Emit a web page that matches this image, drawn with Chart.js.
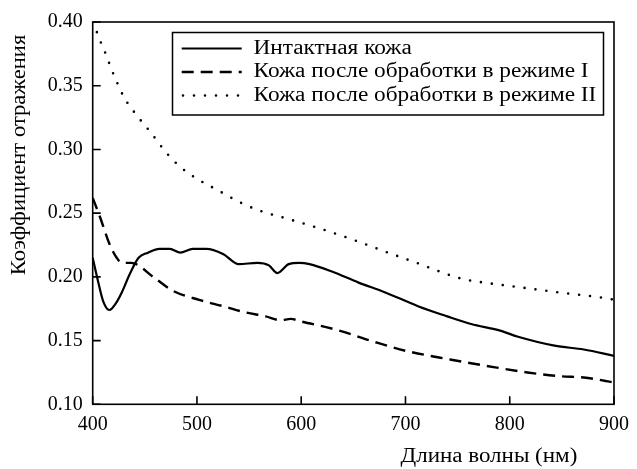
<!DOCTYPE html>
<html><head><meta charset="utf-8">
<script src="https://cdn.jsdelivr.net/npm/chart.js@4/dist/chart.umd.min.js"></script>
<style>html,body{margin:0;padding:0;background:#fff}</style>
</head><body>
<canvas id="c" width="637" height="469"></canvas>
<script>
// ---- data ----
const intactX = [400,405,410,416,422,428,436,444,453,464,474,484,496,509,525,540,558,569,577,588,598,608,630,655,680,712,740,763,790,808,843,871,900];
const intactY = [0.215,0.197,0.181,0.174,0.179,0.188,0.203,0.215,0.219,0.222,0.222,0.219,0.222,0.222,0.218,0.210,0.211,0.209,0.203,0.210,0.211,0.210,0.204,0.1955,0.188,0.177,0.169,0.163,0.158,0.153,0.146,0.143,0.138];
const mode1X = [400,407,416,423,428,437,458,477,502,525,547,566,580,590,600,636,670,700,744,786,817,849,871,894,900];
const mode1Y = [0.262,0.247,0.226,0.215,0.211,0.211,0.200,0.189,0.182,0.177,0.172,0.169,0.166,0.167,0.165,0.158,0.149,0.142,0.135,0.129,0.125,0.122,0.121,0.118,0.117];
const mode2X = [400,405,409,413,417,421,430,442,456,469,483,502,520,540,560,585,610,652,680,709,754,780,808,850,894,900];
const mode2Y = [0.400,0.390,0.3815,0.374,0.365,0.357,0.341,0.327,0.313,0.299,0.287,0.276,0.268,0.259,0.252,0.246,0.240,0.2285,0.220,0.2115,0.1985,0.195,0.192,0.1875,0.183,0.182];
const seriesLabels = ["Интактная кожа","Кожа после обработки в режиме I","Кожа после обработки в режиме II"];
const xTicks = [400,500,600,700,800,900];
const yTicks = [0.10,0.15,0.20,0.25,0.30,0.35,0.40];
const xTitle = "Длина волны (нм)";
const yTitle = "Коэффициент отражения";

const FONT = "Liberation Serif, Times New Roman, serif";
const TEXT_STRETCH = 1.15;
const toPts = (xs, ys) => xs.map((x,i)=>({x, y: ys[i]}));

function stretchText(ctx, text, x, y, align, sx){
  ctx.save();
  ctx.translate(x, y);
  ctx.scale(sx, 1);
  ctx.textAlign = align;
  ctx.fillText(text, 0, 0);
  ctx.restore();
}

const framePlugin = {
  id: 'frame',
  afterDatasetsDraw(chart){
    const {ctx, chartArea:a, scales:{x, y}} = chart;
    ctx.save();
    ctx.strokeStyle = '#000';
    ctx.lineWidth = 1.6;
    ctx.strokeRect(a.left, a.top, a.right-a.left, a.bottom-a.top);
    ctx.beginPath();
    xTicks.forEach(v=>{ const p = x.getPixelForValue(v); ctx.moveTo(p, a.bottom); ctx.lineTo(p, a.bottom-8); });
    yTicks.forEach(v=>{ const p = y.getPixelForValue(v); ctx.moveTo(a.left, p); ctx.lineTo(a.left+8, p); });
    ctx.stroke();
    // axis titles
    ctx.fillStyle = '#000';
    ctx.font = '20px ' + FONT;
    ctx.textBaseline = 'middle';
    stretchText(ctx, xTitle, x.getPixelForValue(780), 457, 'center', TEXT_STRETCH);
    ctx.save();
    ctx.translate(19.5, 155);
    ctx.rotate(-Math.PI/2);
    stretchText(ctx, yTitle, 0, 0, 'center', 1.13);
    ctx.restore();
    // legend
    const bx = 172.5, by = 32.5, bw = 431, bh = 82.5;
    ctx.lineWidth = 1.5;
    ctx.strokeRect(bx, by, bw, bh);
    const rows = [48.5, 72, 95.5];
    chart.data.datasets.forEach((ds, i)=>{
      const ry = rows[i];
      ctx.save();
      ctx.strokeStyle = '#000';
      ctx.lineWidth = ds.borderWidth;
      ctx.setLineDash(ds.borderDash || []);
      ctx.lineCap = ds.borderCapStyle || 'butt';
      ctx.beginPath();
      ctx.moveTo(i===2 ? 183 : 181.7, ry);
      ctx.lineTo(241.7, ry);
      ctx.stroke();
      ctx.restore();
      stretchText(ctx, ds.label, 253.5, ry, 'left', 1.165);
    });
    ctx.restore();
  }
};

new Chart(document.getElementById('c'), {
  type: 'line',
  data: {
    datasets: [
      { label: seriesLabels[0], data: toPts(intactX, intactY), borderColor:'#000', borderWidth:2.2, pointRadius:0, cubicInterpolationMode:'monotone', fill:false },
      { label: seriesLabels[1], data: toPts(mode1X, mode1Y), borderColor:'#000', borderWidth:2.4, borderDash:[12,7], pointRadius:0, cubicInterpolationMode:'monotone', fill:false },
      { label: seriesLabels[2], data: toPts(mode2X, mode2Y), borderColor:'#000', borderWidth:2.6, borderDash:[0,11], borderCapStyle:'round', pointRadius:0, cubicInterpolationMode:'monotone', fill:false }
    ]
  },
  options: {
    responsive: false,
    animation: false,
    devicePixelRatio: 1,
    layout: { padding: { top: 20.7, right: 20.3, left: 0, bottom: 0 } },
    plugins: { legend: { display:false }, title: { display:false }, tooltip: { enabled:false } },
    scales: {
      x: {
        type: 'linear', min: 400, max: 900,
        grid: { display:false, drawTicks:false },
        border: { display:false },
        afterBuildTicks: s => { s.ticks = xTicks.map(v=>({value:v})); },
        afterFit: s => { s.height = 469 - 404.3; },
        ticks: { color:'#000', font:{ family: FONT, size: 20 }, padding: 8, maxRotation:0, callback: v => String(v) }
      },
      y: {
        type: 'linear', min: 0.10, max: 0.40,
        grid: { display:false, drawTicks:false },
        border: { display:false },
        afterBuildTicks: s => { s.ticks = yTicks.map(v=>({value:v})); },
        afterFit: s => { s.width = 92.7; },
        ticks: { color:'#000', font:{ family: FONT, size: 20 }, padding: 10, callback: v => v.toFixed(2) }
      }
    }
  },
  plugins: [framePlugin]
});
</script>
</body></html>
